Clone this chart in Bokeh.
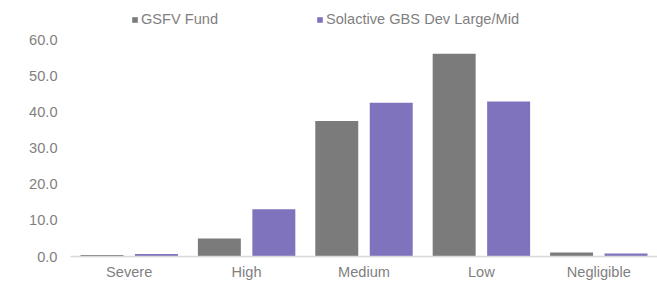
from bokeh.plotting import figure
from bokeh.models import (ColumnDataSource, FactorRange, Range1d, FixedTicker,
                          NumeralTickFormatter, Legend, LegendItem)
from bokeh.transform import dodge
from bokeh.embed import file_html
from bokeh.resources import INLINE

categories = ["Severe", "High", "Medium", "Low", "Negligible"]
fund = [0.4, 5.0, 37.5, 56.1, 1.1]
bench = [0.7, 13.1, 42.5, 42.9, 0.8]
series_names = ["GSFV Fund", "Solactive GBS Dev Large/Mid"]
y_ticks = [0, 10, 20, 30, 40, 50, 60]

GRAY = "#7b7b7b"
PURPLE = "#8073bd"
TEXT = "#7f7f7f"
FONT = "Liberation Sans"
FS = "14.6px"

src = ColumnDataSource(dict(cat=categories, fund=fund, bench=bench))

# frame spans the full height above the axis; headroom above 60 holds the legend
p = figure(width=657, height=282,
           x_range=FactorRange(factors=categories, range_padding=0),
           y_range=Range1d(0, 70.8),
           output_backend="svg", toolbar_location=None,
           min_border_left=70, min_border_right=0,
           min_border_top=0, min_border_bottom=25)

r1 = p.vbar(x=dodge("cat", -0.232, range=p.x_range), top="fund", bottom=0,
            width=0.366, source=src, fill_color=GRAY, line_color=None)
r2 = p.vbar(x=dodge("cat", 0.232, range=p.x_range), top="bench", bottom=0,
            width=0.366, source=src, fill_color=PURPLE, line_color=None)

p.outline_line_color = None
p.xgrid.visible = False
p.ygrid.visible = False
p.background_fill_color = "white"
p.border_fill_color = "white"

xa = p.xaxis[0]
xa.axis_line_color = "#d9d9d9"
xa.axis_line_width = 1.5
xa.major_tick_line_color = None
xa.minor_tick_line_color = None
xa.major_tick_out = 0
xa.major_tick_in = 0
xa.major_label_text_font = FONT
xa.major_label_text_font_size = FS
xa.major_label_text_color = TEXT
xa.major_label_standoff = 7

ya = p.yaxis[0]
ya.axis_line_color = None
ya.major_tick_line_color = None
ya.minor_tick_line_color = None
ya.major_tick_out = 0
ya.major_tick_in = 0
ya.ticker = FixedTicker(ticks=y_ticks)
ya.formatter = NumeralTickFormatter(format="0.0")
ya.major_label_text_font = FONT
ya.major_label_text_font_size = FS
ya.major_label_text_color = TEXT
ya.major_label_standoff = 13

legend = Legend(items=[LegendItem(label=series_names[0], renderers=[r1]),
                       LegendItem(label=series_names[1], renderers=[r2])],
                orientation="horizontal", location=(61, 229),
                padding=0, margin=0, border_line_color=None,
                background_fill_alpha=0, glyph_width=7, glyph_height=7,
                label_height=16,
                label_standoff=3, label_width=170, spacing=5,
                label_text_font=FONT, label_text_font_size=FS,
                label_text_color=TEXT)
p.add_layout(legend)

open("out.html", "w").write(file_html(p, INLINE))
